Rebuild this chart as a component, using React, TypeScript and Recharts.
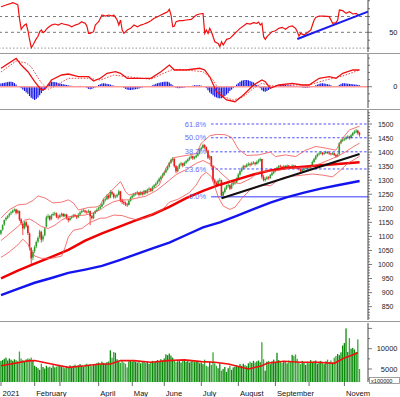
import React from 'react';
import { ComposedChart, Bar, Line, XAxis, YAxis, ReferenceLine } from 'recharts';

const FONT = '"Liberation Sans", Arial, sans-serif';
const X_DOMAIN: [number, number] = [-0.6, 218];
const MARGIN = { top: 0, right: 0, bottom: 0, left: 0 };

// daily candles [open, high, low, close], one array per month
const jan = [
  [1110, 1124, 1105, 1122], [1124, 1143, 1120, 1140], [1142, 1160, 1138, 1158], [1160, 1170, 1155, 1166],
  [1166, 1176, 1162, 1172], [1174, 1184, 1168, 1180], [1182, 1190, 1176, 1186], [1186, 1196, 1182, 1192],
  [1193, 1200, 1188, 1195], [1196, 1198, 1178, 1184], [1184, 1195, 1180, 1192], [1190, 1192, 1155, 1160],
  [1160, 1165, 1140, 1148], [1145, 1150, 1105, 1128], [1130, 1155, 1125, 1150], [1150, 1156, 1132, 1138],
  [1138, 1142, 1105, 1112], [1110, 1114, 1050, 1060], [1058, 1062, 1000, 1022], [1025, 1052, 1015, 1045],
];
const feb = [
  [1048, 1068, 1040, 1062], [1064, 1085, 1058, 1080], [1082, 1100, 1076, 1095], [1098, 1124, 1092, 1118],
  [1115, 1120, 1078, 1088], [1090, 1106, 1082, 1100], [1104, 1132, 1100, 1128], [1135, 1174, 1132, 1168],
  [1168, 1180, 1162, 1172], [1172, 1175, 1155, 1160], [1162, 1180, 1158, 1175], [1176, 1186, 1172, 1180],
  [1180, 1188, 1174, 1182], [1182, 1185, 1165, 1170], [1170, 1176, 1160, 1168],
];
const mar = [
  [1168, 1180, 1164, 1175], [1176, 1185, 1170, 1180], [1180, 1183, 1168, 1172], [1172, 1182, 1168, 1178],
  [1178, 1180, 1160, 1165], [1164, 1168, 1150, 1158], [1158, 1170, 1155, 1165], [1166, 1174, 1162, 1170],
  [1170, 1180, 1166, 1175], [1176, 1180, 1168, 1172], [1172, 1176, 1162, 1168], [1168, 1182, 1165, 1178],
  [1178, 1190, 1175, 1185], [1186, 1195, 1182, 1190], [1190, 1198, 1186, 1192], [1192, 1195, 1182, 1188],
  [1188, 1192, 1180, 1186], [1186, 1196, 1184, 1190], [1190, 1192, 1140, 1172], [1172, 1176, 1160, 1165],
  [1165, 1186, 1162, 1182], [1182, 1194, 1180, 1190], [1190, 1200, 1186, 1195],
];
const apr = [
  [1196, 1206, 1192, 1200], [1200, 1212, 1196, 1206], [1206, 1220, 1204, 1215], [1216, 1235, 1212, 1230],
  [1230, 1238, 1224, 1232], [1232, 1250, 1230, 1245], [1246, 1250, 1232, 1238], [1238, 1265, 1236, 1258],
  [1258, 1262, 1246, 1252], [1252, 1255, 1234, 1240], [1240, 1248, 1235, 1242], [1242, 1252, 1238, 1248],
  [1248, 1266, 1246, 1260], [1260, 1262, 1222, 1228], [1228, 1234, 1215, 1222], [1222, 1228, 1212, 1218],
  [1218, 1224, 1208, 1214], [1214, 1220, 1205, 1212], [1212, 1230, 1210, 1226], [1226, 1242, 1224, 1238],
];
const may = [
  [1238, 1250, 1235, 1245], [1245, 1255, 1240, 1250], [1250, 1258, 1245, 1252], [1252, 1262, 1248, 1256],
  [1256, 1258, 1242, 1248], [1248, 1262, 1246, 1258], [1258, 1260, 1245, 1250], [1250, 1266, 1248, 1262],
  [1262, 1265, 1250, 1255], [1255, 1270, 1252, 1266], [1266, 1275, 1262, 1270], [1270, 1272, 1258, 1262],
  [1262, 1280, 1260, 1275], [1275, 1286, 1272, 1282], [1282, 1292, 1278, 1288], [1288, 1300, 1285, 1296],
  [1296, 1310, 1292, 1305], [1305, 1316, 1300, 1312], [1312, 1325, 1308, 1320],
];
const jun = [
  [1320, 1332, 1316, 1328], [1328, 1342, 1325, 1338], [1338, 1352, 1334, 1348], [1348, 1366, 1345, 1362],
  [1362, 1376, 1358, 1372], [1372, 1382, 1366, 1376], [1376, 1378, 1345, 1350], [1350, 1354, 1325, 1332],
  [1332, 1350, 1328, 1345], [1345, 1360, 1340, 1355], [1355, 1365, 1350, 1360], [1360, 1362, 1346, 1352],
  [1352, 1366, 1350, 1362], [1362, 1372, 1358, 1368], [1368, 1378, 1364, 1374], [1374, 1384, 1370, 1380],
  [1380, 1390, 1376, 1385], [1385, 1388, 1372, 1378], [1378, 1386, 1374, 1382], [1382, 1392, 1378, 1388],
  [1388, 1400, 1384, 1395], [1395, 1414, 1392, 1410],
];
const jul = [
  [1410, 1420, 1405, 1415], [1415, 1430, 1412, 1425], [1425, 1428, 1412, 1418], [1418, 1420, 1398, 1405],
  [1405, 1408, 1375, 1380], [1380, 1390, 1372, 1385], [1385, 1386, 1345, 1350], [1350, 1352, 1295, 1300],
  [1300, 1306, 1282, 1290], [1290, 1296, 1276, 1282], [1282, 1302, 1280, 1298], [1298, 1308, 1292, 1300],
  [1300, 1302, 1236, 1245], [1245, 1262, 1238, 1258], [1258, 1275, 1252, 1270], [1270, 1284, 1266, 1280],
  [1280, 1288, 1274, 1282], [1282, 1285, 1265, 1270], [1270, 1290, 1268, 1285], [1285, 1295, 1280, 1290],
  [1290, 1298, 1284, 1292], [1292, 1310, 1290, 1305],
];
const aug = [
  [1305, 1325, 1302, 1320], [1320, 1336, 1316, 1332], [1332, 1346, 1328, 1342], [1342, 1355, 1338, 1350],
  [1350, 1354, 1342, 1348], [1348, 1360, 1345, 1355], [1355, 1364, 1350, 1358], [1358, 1362, 1348, 1355],
  [1355, 1366, 1352, 1360], [1360, 1368, 1356, 1362], [1362, 1365, 1352, 1358], [1358, 1370, 1355, 1365],
  [1365, 1375, 1360, 1370], [1370, 1380, 1366, 1375], [1375, 1376, 1305, 1312], [1312, 1318, 1296, 1300],
  [1300, 1310, 1295, 1305], [1305, 1315, 1300, 1310], [1310, 1314, 1302, 1308], [1308, 1322, 1305, 1318],
  [1318, 1330, 1315, 1325], [1325, 1336, 1322, 1332],
];
const sep = [
  [1332, 1342, 1328, 1338], [1338, 1348, 1335, 1345], [1345, 1354, 1342, 1350], [1350, 1355, 1344, 1348],
  [1348, 1350, 1338, 1342], [1342, 1354, 1340, 1350], [1350, 1353, 1342, 1346], [1346, 1356, 1344, 1352],
  [1352, 1354, 1344, 1348], [1348, 1350, 1340, 1345], [1345, 1356, 1343, 1352], [1352, 1355, 1346, 1350],
  [1350, 1354, 1344, 1348], [1348, 1350, 1340, 1345], [1345, 1347, 1335, 1340], [1340, 1342, 1326, 1332],
  [1332, 1340, 1328, 1336], [1336, 1346, 1333, 1342], [1342, 1350, 1340, 1345], [1345, 1348, 1338, 1342],
];
const oct = [
  [1342, 1350, 1338, 1345], [1345, 1355, 1342, 1350], [1350, 1370, 1348, 1365], [1365, 1380, 1362, 1375],
  [1375, 1390, 1372, 1385], [1385, 1396, 1382, 1392], [1392, 1400, 1388, 1395], [1395, 1404, 1392, 1398],
  [1398, 1400, 1388, 1393], [1393, 1400, 1390, 1396], [1396, 1405, 1394, 1400], [1400, 1403, 1394, 1398],
  [1398, 1400, 1390, 1395], [1395, 1398, 1388, 1392], [1392, 1400, 1390, 1396], [1396, 1398, 1386, 1390],
  [1390, 1392, 1380, 1385], [1385, 1395, 1382, 1390], [1392, 1436, 1390, 1432], [1432, 1446, 1428, 1440],
  [1440, 1450, 1436, 1444],
];
const nov = [
  [1444, 1452, 1440, 1447], [1447, 1458, 1442, 1452], [1452, 1460, 1448, 1455], [1455, 1458, 1444, 1450],
  [1450, 1465, 1448, 1460], [1460, 1472, 1456, 1468], [1468, 1478, 1464, 1472], [1472, 1482, 1468, 1476],
  [1476, 1480, 1462, 1468], [1468, 1472, 1455, 1462],
];

// volume, x100000 shares
const volumes = [
  7000, 7200, 7500, 7800, 7100, 7600, 7300, 7000, 7400, 7200, 6900, 9300, 7600, 7200, 7000, 7400, 7600, 7500, 7800, 7200,
  5800, 5500, 5200, 4800, 6300, 5500, 5100, 5800, 5400,
  5600, 5300, 5900, 5400, 5600, 5800, 6000, 5500, 5400, 5200, 5700, 5500, 5900, 5300, 5800, 6100, 5600, 5900, 6200, 5800,
  5600, 6100, 6300, 6000, 6200, 5700, 6000, 6200,
  6400, 6600, 6200, 6800, 6500, 6300, 6700, 6900, 9600, 7800, 9200, 9000, 7400,
  6800, 6500, 7000, 6600, 6300, 5400, 6900, 7200, 6800, 7000,
  6800, 6600, 7000, 6400, 6700, 6900, 6500, 6800, 6300, 6600, 7000, 6700, 6900, 7200, 6800, 7400, 7100, 7600,
  8600, 8400, 8800, 8300, 7800,
  7000, 6700, 6900, 7200, 6600, 7000, 7300, 6800, 7100, 6600, 6900, 7200, 6700,
  6800, 7000, 6400, 6600, 6200, 7300, 5800, 5600, 6800, 6000, 9100, 6400,
  5800, 5200, 6400, 4600, 5000, 5500, 4300, 5200, 5800, 4800, 5400, 5600,
  5900, 5600, 6200, 5800, 6300, 6000, 5700, 6400, 6800, 6500, 7000, 6600, 6900, 7100, 6700,
  11600, 7400, 4600, 6800, 7000, 6200, 6900, 7300, 6600, 9000, 7200, 6800, 6500, 7000, 6700, 6400, 7100, 6900,
  8500, 8200, 8600, 7500,
  6700, 6200, 7000, 6500, 6000, 6800, 6400, 7200, 6600, 6900, 7100, 6300, 6800, 7000, 6500, 6200, 6900, 7300, 6700, 7100, 6600,
  7800, 8200, 8700, 8400, 9100, 10800,
  11400, 15000, 9200, 12600, 10000, 10200, 9800, 9200, 12300, 5000,
];

// MACD histogram, one value per day
const macdHist = [
  4.5, 5, 5.5, 6, 6.5, 7, 7, 6.5, 5, 3, 1, -0.5,
  -2, -4, -6, -8, -10, -13, -15.5, -17, -18.6, -17, -15, -12, -9, -6, -4, -2,
  3, 5, 7, 6.8, 6.5, 6, 5, 4.5, 4, 3.5, 3, 2.5, 2,
  1.5, 1.2, 1, 1, 0.8, 1, 1.2, 1, 0.5, 0,
  -1.5, -3, -3.6, -3, -2, -1,
  1, 2.5, 3.5, 4.5, 4.8, 4.5, 4, 3.5, 3, 2, 1.5,
  1, 1, 0.5, 0.5, 0,
  -1.5, -3, -4, -4.6, -4.6, -4.2, -4, -3.5, -3, -2.5, -1.5, -1,
  -0.5, 0, 0.3, 0.5, 1,
  2, 3, 4, 5, 5.5, 6, 6.5, 7, 7, 7, 6, 4, 2,
  -0.5, -1.5, -2, -2, -1.8, -1.5, -1, -0.5,
  0.3, 0.5, 1, 1.5, 2, 2, 2, 2, 1.5, 1, 0,
  -2, -5, -8, -10, -12, -14, -15, -16, -16.3, -16, -15, -13, -11, -9, -6, -4, -2,
  1, 3, 5, 7, 8.5, 9, 9.4, 9.4, 9, 8, 7, 6, 4, 2.5, 1,
  -2, -5, -6.5, -7, -6, -4.5, -3, -1.5, -0.5,
  1, 1.5, 2, 2.5, 2.5, 2.5, 2.5, 2, 2, 2, 1.5, 1.5, 1, 0.5, 0,
  -0.5, -1, -1.5, -1.5, -1.5, -1, -0.5, 0.3,
  1, 2, 3, 4, 4.5, 4.8, 4.5, 4, 3.5, 3, 2, 1,
  0, -0.5,
  1, 2.5, 4, 4.8, 4.8, 4.5, 4.2, 4, 3.8, 3.5, 3, 3, 2.5, 2,
];

// sparse readings [day, value]
const rsiPts = [
  [0, 82.4], [3, 84.6], [6, 86.7], [7, 87.5], [9, 85.8], [10, 84.6], [11, 67], [12, 53.8], [13, 57], [14, 59.2],
  [15, 60.5], [16, 52], [17, 40.3], [18, 30.5], [19, 33.9], [20, 38.1], [21, 42], [22, 45], [23, 50.8], [24, 52.9],
  [25, 49.5], [26, 51], [27, 54], [28, 56], [30, 59.2], [32, 60.5], [34, 59.2], [36, 61.4], [37, 60.5], [40, 59.2],
  [42, 57.1], [44, 59.2], [46, 60.5], [48, 63.5], [49, 62.2], [50, 61.4], [51, 58], [52, 48.7], [53, 48.7], [55, 50.8],
  [56, 59.2], [57, 61.4], [58, 63.5], [59, 67.7], [60, 71.9], [62, 70.6], [64, 71.9], [66, 70.6], [67, 71.9], [68, 68.9],
  [69, 65.6], [70, 59.2], [71, 65.6], [72, 52.9], [73, 48.7], [74, 50.8], [75, 52.9], [77, 55], [79, 59.2], [81, 57.1],
  [83, 59.2], [85, 60.5], [87, 62.2], [89, 64.7], [91, 67.7], [93, 69.8], [95, 72], [97, 74], [99, 76.1], [100, 79.1],
  [101, 71.9], [102, 57.1], [103, 58], [104, 63.5], [106, 64.7], [108, 64.7], [110, 65.6], [113, 66.4], [116, 71.9],
  [118, 73.2], [120, 74], [121, 48.7], [122, 52.9], [123, 48.7], [124, 55], [125, 50.8], [127, 38.1], [129, 36],
  [130, 31.8], [131, 38.1], [132, 33.9], [134, 41.1], [136, 42.4], [138, 46.6], [140, 50.8], [142, 55], [144, 58],
  [146, 61.4], [148, 60.5], [150, 62.2], [152, 61.4], [153, 63], [154, 59.2], [155, 61.4], [156, 44.5], [157, 41.1],
  [158, 44.5], [160, 48.7], [161, 50.8], [163, 52], [165, 55], [167, 56.3], [169, 53.8], [171, 57.1], [173, 58],
  [175, 55], [176, 50.8], [177, 45.3], [178, 48.7], [180, 46.6], [182, 49.5], [184, 52.9], [185, 59.2], [186, 65.6],
  [187, 68.9], [189, 70.6], [192, 70.6], [195, 69.8], [197, 61.4], [199, 62.2], [200, 65.6], [201, 78.2], [203, 77.4],
  [205, 74], [207, 76.1], [209, 73.2], [211, 74], [212, 71.9],
];
const macdPts = [
  [0, 25.8], [9, 39.6], [12, 30.4], [16, 21], [20, 7], [24, -4.6], [26, -3.6], [30, 9.4], [36, 16.4], [40, 17.8],
  [46, 14], [52, 14], [55, 8], [59, 11.8], [63, 18.8], [68, 21], [71, 18.8], [75, 11.8], [83, 11.8], [89, 11.8],
  [95, 21], [100, 30.4], [103, 23.4], [110, 23.4], [118, 25.8], [121, 23.4], [124, 14], [128, -7], [134, -18.6],
  [139, -21], [144, -11.6], [150, 2.4], [155, 9.4], [157, 7], [160, -2.2], [165, 2.4], [173, 4.8], [179, 2.4],
  [183, 2.4], [189, 11.8], [195, 14], [199, 11.8], [203, 18.8], [209, 23.4], [213, 23.4],
];
const signalPts = [
  [0, 20.6], [9, 36], [15, 33.2], [18, 27.6], [24, 5.2], [28, -3.6], [31, -0.4], [40, 11.8], [52, 11.8], [59, 9.4],
  [67, 16.4], [75, 14], [89, 10.4], [101, 23.4], [107, 24.4], [110, 23.4], [120, 21], [126, 9.4], [132, -14],
  [138, -18.6], [144, -14], [150, -2.2], [155, 4.8], [161, 1], [169, 2.4], [183, 2.4], [193, 9.4], [203, 15], [213, 23.4],
];
const bbUpperPts = [
  [0, 1165], [5, 1195], [10, 1212], [15, 1215], [19, 1228], [22, 1244], [26, 1237], [31, 1219], [36, 1222], [40, 1230],
  [43, 1219], [46, 1194], [52, 1203], [57, 1205], [59, 1212], [61, 1235], [67, 1271], [71, 1295], [74, 1259], [76, 1247],
  [80, 1254], [88, 1259], [94, 1283], [98, 1343], [102, 1379], [106, 1384], [112, 1390], [116, 1395], [119, 1432],
  [124, 1458], [128, 1463], [133, 1462], [137, 1452], [141, 1410], [146, 1388], [153, 1390], [160, 1400], [163, 1384],
  [169, 1390], [175, 1384], [181, 1407], [187, 1420], [193, 1414], [199, 1407], [203, 1450], [207, 1479], [212, 1490],
  [213, 1492],
];
const bbMidPts = [
  [0, 1085], [5, 1110], [10, 1135], [14, 1158], [17, 1162], [20, 1152], [24, 1135], [28, 1128], [32, 1140], [36, 1158],
  [40, 1170], [46, 1174], [50, 1176], [54, 1182], [59, 1195], [62, 1208], [67, 1224], [72, 1230], [76, 1230], [82, 1238],
  [86, 1243], [92, 1262], [98, 1290], [104, 1320], [110, 1338], [116, 1360], [120, 1370], [126, 1352], [132, 1318],
  [137, 1292], [142, 1288], [148, 1305], [153, 1328], [158, 1332], [163, 1333], [170, 1342], [176, 1344], [183, 1346],
  [190, 1360], [196, 1375], [200, 1385], [205, 1402], [209, 1418], [213, 1432],
];
const bbLowerPts = [
  [0, 1025], [5, 1045], [10, 1070], [13, 1090], [16, 1072], [18, 1050], [20, 1030], [24, 1022], [30, 1022], [36, 1030],
  [38, 1060], [40, 1098], [43, 1122], [48, 1128], [53, 1150], [59, 1165], [62, 1165], [67, 1176], [72, 1174], [76, 1166],
  [80, 1160], [86, 1166], [91, 1183], [96, 1196], [100, 1222], [105, 1232], [108, 1242], [112, 1256], [116, 1283],
  [119, 1315], [122, 1328], [125, 1312], [129, 1241], [132, 1208], [136, 1196], [139, 1204], [143, 1235], [148, 1266],
  [155, 1283], [160, 1280], [164, 1298], [168, 1310], [173, 1314], [179, 1318], [185, 1322], [191, 1318], [197, 1312],
  [201, 1332], [206, 1360], [211, 1378], [213, 1385],
];
const maFastPts = [
  [0, 951], [10, 978], [20, 1003], [30, 1027], [40, 1052], [50, 1085], [60, 1111], [70, 1134], [80, 1157], [90, 1178],
  [100, 1205], [110, 1236], [120, 1262], [130, 1284], [140, 1302], [150, 1320], [160, 1335], [170, 1343], [180, 1348],
  [190, 1353], [200, 1358], [213, 1364],
];
const maSlowPts = [
  [0, 891], [10, 913], [20, 935], [30, 952], [40, 970], [50, 982], [60, 995], [70, 1015], [80, 1036], [90, 1057],
  [100, 1078], [110, 1105], [120, 1132], [130, 1150], [140, 1173], [150, 1197], [160, 1220], [170, 1240], [180, 1256],
  [190, 1270], [200, 1282], [213, 1297],
];
const volMaPts = [
  [0, 5800], [16, 7000], [20, 7075], [30, 6250], [40, 5400], [50, 5800], [59, 6250], [65, 6250], [71, 7075], [79, 7075],
  [89, 6660], [99, 7075], [109, 7240], [119, 6825], [127, 6660], [135, 6250], [147, 5000], [155, 5825], [158, 6400],
  [168, 6900], [178, 6660], [188, 6660], [198, 6400], [204, 7740], [208, 8300], [212, 8990],
];

const fibLabels = ['0.0%', '23.6%', '38.2%', '50.0%', '61.8%'];
const fibPrices = [1241, 1340, 1401, 1451, 1500];
const FIB_START = 124.8;

const monthDays = [0, 20, 35, 58, 78, 97, 119, 141, 163, 183, 204];
const monthLabels = ['2021', 'February', '', 'April', 'May', 'June', 'July', 'August', 'September', '', 'Novem'];

const priceTicks = Array.from({ length: 74 }, (_, i) => 810 + i * 10);
const rsiTicks = [30, 40, 50, 60, 70, 80, 90];
const macdTicks = [-20, -10, 0, 10, 20, 30, 40];
const volTicks = [2500, 5000, 7500, 10000, 12500, 15000];

const ohlc = [...jan, ...feb, ...mar, ...apr, ...may, ...jun, ...jul, ...aug, ...sep, ...oct, ...nov];

const rows: any[] = ohlc.map(([o, h, l, c], i) => ({
  day: i, o, h, l, c, range: [l, h], vol: volumes[i], hist: macdHist[i],
}));
const sparse: [string, number[][]][] = [
  ['macd', macdPts], ['signal', signalPts], ['bbU', bbUpperPts], ['bbM', bbMidPts],
  ['bbL', bbLowerPts], ['maFast', maFastPts], ['maSlow', maSlowPts], ['volMa', volMaPts],
];
sparse.forEach(([key, pts]) => pts.forEach(([d, v]) => { if (rows[d]) rows[d][key] = v; }));
const rsiRows = rsiPts.map(([day, rsi]) => ({ day, rsi }));

const Candle = (props: any) => {
  const { x, y, width, height, payload } = props;
  if (x == null || !payload) return null;
  const top = Math.min(y, y + height);
  const hh = Math.abs(height);
  const { o, h, l, c } = payload;
  const k = h > l ? hh / (h - l) : 0;
  const cx = x + width / 2;
  const yo = top + (h - o) * k;
  const yc = top + (h - c) * k;
  const col = c >= o ? '#2f9e2f' : '#f01818';
  return (
    <g>
      <line x1={cx} x2={cx} y1={top} y2={top + hh} stroke={col} strokeWidth={0.8} />
      <rect x={cx - 0.8} y={Math.min(yo, yc)} width={1.6} height={Math.max(Math.abs(yc - yo), 0.8)} fill={col} />
    </g>
  );
};

const VolBar = (props: any) => {
  const { x, y, width, height, payload } = props;
  if (x == null || !payload) return null;
  const cx = x + width / 2;
  const col = payload.c >= payload.o ? '#0b8a0b' : '#3aa63a';
  return <rect x={cx - 0.65} y={Math.min(y, y + height)} width={1.3} height={Math.abs(height)} fill={col} />;
};

const HistBar = (props: any) => {
  const { x, y, width, height } = props;
  if (x == null) return null;
  const cx = x + width / 2;
  return <rect x={cx - 0.6} y={Math.min(y, y + height)} width={1.2} height={Math.abs(height)} fill="#1515e8" />;
};

const axisTick = (labelled: (v: number) => boolean, major: (v: number) => boolean, labelX: number, size: number) =>
  (p: any) => {
    const v = p.payload.value;
    return (
      <g>
        <line x1={p.x} x2={p.x + (major(v) ? 4 : 2)} y1={p.y} y2={p.y} stroke="#444" strokeWidth={0.7} />
        {labelled(v) ? (
          <text x={labelX} y={p.y} dy={size * 0.36} textAnchor="end" fontSize={size} fill="#222" fontFamily={FONT}>
            {v}
          </text>
        ) : null}
      </g>
    );
  };

const MonthTick = (p: any) => {
  const idx = monthDays.indexOf(p.payload.value);
  const label = monthLabels[idx];
  return (
    <g>
      <line x1={p.x} x2={p.x} y1={p.y} y2={p.y + 4} stroke="#444" strokeWidth={0.8} />
      {label ? (
        <text x={p.x + 1.5} y={p.y + 13.5} fontSize={7.6} fill="#111" fontFamily={FONT}>{label}</text>
      ) : null}
    </g>
  );
};

const hiddenX = <XAxis hide type="number" dataKey="day" domain={X_DOMAIN} allowDataOverflow />;

export default function App() {
  return (
    <div style={{ position: 'absolute', left: 0, top: 0, width: 400, height: 397, background: '#fff', overflow: 'hidden' }}>
      {/* RSI */}
      <div style={{ position: 'absolute', left: 0, top: 0 }}>
        <ComposedChart width={400} height={53} data={rsiRows} margin={{ ...MARGIN, bottom: 1 }}>
          {hiddenX}
          <YAxis orientation="right" width={32} domain={[25.1, 90.9]} allowDataOverflow ticks={rsiTicks} interval={0}
            tickSize={0} tickMargin={0} axisLine={{ stroke: '#444' }}
            tick={axisTick((v) => v === 50, (v) => v === 50, 397.5, 7.5)} />
          <ReferenceLine y={70} stroke="#555" strokeDasharray="3 3" strokeWidth={0.8} />
          <ReferenceLine y={50} stroke="#555" strokeDasharray="3 3" strokeWidth={0.8} />
          <ReferenceLine y={30} stroke="#aaa" strokeDasharray="1.5 2" strokeWidth={1.2} />
          <Line type="linear" dataKey="rsi" stroke="#f01010" strokeWidth={1.2} dot={false} activeDot={false}
            isAnimationActive={false} />
          <ReferenceLine segment={[{ x: 176, y: 41.5 }, { x: 218, y: 76.2 }]} stroke="#1a1aee" strokeWidth={2} />
        </ComposedChart>
      </div>

      {/* MACD */}
      <div style={{ position: 'absolute', left: 0, top: 54 }}>
        <ComposedChart width={400} height={55} data={rows} margin={{ ...MARGIN, bottom: 1 }}>
          {hiddenX}
          <YAxis orientation="right" width={32} domain={[-29.8, 45.8]} allowDataOverflow ticks={macdTicks} interval={0}
            tickSize={0} tickMargin={0} axisLine={{ stroke: '#444' }}
            tick={axisTick((v) => v === 0, (v) => v === 0, 397.5, 7.5)} />
          <Bar dataKey="hist" shape={HistBar} barSize={2} isAnimationActive={false} />
          <ReferenceLine y={0} stroke="#ff9a9a" strokeWidth={1.5} />
          <Line dataKey="signal" stroke="#f04040" strokeWidth={1} strokeDasharray="1.5 1.5" dot={false} connectNulls isAnimationActive={false} />
          <Line dataKey="macd" stroke="#f01010" strokeWidth={1.3} dot={false} connectNulls isAnimationActive={false} />
        </ComposedChart>
      </div>

      {/* Price */}
      <div style={{ position: 'absolute', left: 0, top: 110 }}>
        <ComposedChart width={400} height={210} data={rows} margin={MARGIN}>
          {hiddenX}
          <YAxis orientation="right" width={32} domain={[802.5, 1549.8]} allowDataOverflow ticks={priceTicks} interval={0}
            tickSize={0} tickMargin={0} axisLine={{ stroke: '#444' }}
            tick={axisTick((v) => v % 50 === 0 && v >= 850 && v <= 1500, (v) => v % 50 === 0, 393.5, 7)} />
          {fibPrices.map((p, i) => (
            <ReferenceLine key={fibLabels[i]} segment={[{ x: FIB_START, y: p }, { x: 218, y: p }]}
              stroke={i === 0 ? '#7a7aff' : '#3a3aff'} strokeWidth={i === 0 ? 1.5 : 0.9}
              strokeDasharray={i === 0 ? undefined : '2.5 2'}
              label={{ value: fibLabels[i], position: 'left', offset: 5, fill: '#6b6bff', fontSize: 7.5, fontFamily: FONT }} />
          ))}
          <Line dataKey="maSlow" stroke="#1414f0" strokeWidth={2.4} dot={false} connectNulls isAnimationActive={false} />
          <Line dataKey="maFast" stroke="#f00000" strokeWidth={2.5} dot={false} connectNulls isAnimationActive={false} />
          <Line dataKey="bbU" stroke="#f25050" strokeWidth={0.8} dot={false} connectNulls isAnimationActive={false} />
          <Line dataKey="bbM" stroke="#f25050" strokeWidth={0.8} dot={false} connectNulls isAnimationActive={false} />
          <Line dataKey="bbL" stroke="#f25050" strokeWidth={0.8} dot={false} connectNulls isAnimationActive={false} />
          <ReferenceLine segment={[{ x: 131, y: 1236 }, { x: 213, y: 1393 }]} stroke="#111" strokeWidth={2} />
          <Bar dataKey="range" shape={Candle} barSize={2} isAnimationActive={false} />
        </ComposedChart>
      </div>

      {/* Volume */}
      <div style={{ position: 'absolute', left: 0, top: 323 }}>
        <ComposedChart width={400} height={76} data={rows} margin={MARGIN}>
          <XAxis type="number" dataKey="day" domain={X_DOMAIN} allowDataOverflow ticks={monthDays} interval={0}
            height={17} tickSize={0} tickMargin={0} axisLine={false} tick={MonthTick} />
          <YAxis orientation="right" width={32} domain={[1800, 16330]} allowDataOverflow ticks={volTicks} interval={0}
            tickSize={0} tickMargin={0} axisLine={{ stroke: '#444' }}
            tick={axisTick((v) => v === 5000 || v === 10000, (v) => v % 5000 === 0, 397.5, 7.5)} />
          <Bar dataKey="vol" shape={VolBar} barSize={2} isAnimationActive={false} />
          <Line dataKey="volMa" stroke="#f01010" strokeWidth={1.6} dot={false} connectNulls isAnimationActive={false} />
        </ComposedChart>
      </div>

      {/* panel separators and unit box */}
      <svg width={400} height={397} style={{ position: 'absolute', left: 0, top: 0, pointerEvents: 'none' }}>
        <line x1={0} x2={400} y1={53.5} y2={53.5} stroke="#999" />
        <line x1={0} x2={400} y1={109.5} y2={109.5} stroke="#999" />
        <line x1={0} x2={400} y1={321.5} y2={321.5} stroke="#999" />
        <rect x={369.5} y={377.5} width={30} height={6} fill="#fff" stroke="#888" strokeWidth={0.8} />
        <text x={371} y={383} fontSize={5.6} fill="#222" fontFamily={FONT}>x100000</text>
      </svg>
    </div>
  );
}
